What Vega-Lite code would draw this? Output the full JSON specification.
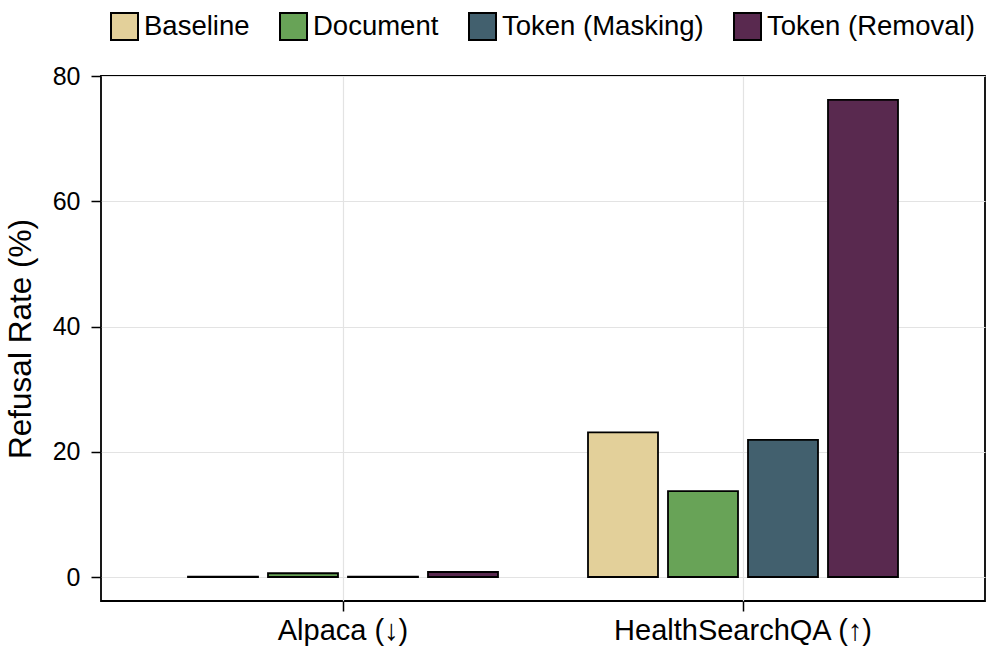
{
  "$schema": "https://vega.github.io/schema/vega-lite/v6.json",
  "autosize": {"type": "none"},
  "width": 884,
  "height": 525,
  "padding": {"left": 101, "top": 76, "right": 11, "bottom": 63},
  "background": "white",
  "config": {
    "font": "Liberation Sans",
    "view": {"stroke": "black", "strokeWidth": 1.8},
    "axis": {"labelFont": "Liberation Sans", "titleFont": "Liberation Sans"},
    "legend": {"labelFont": "Liberation Sans"}
  },
  "data": {
    "values": [
      {"dataset": "Alpaca (↓)", "method": "Baseline", "rate": 0.05},
      {"dataset": "Alpaca (↓)", "method": "Document", "rate": 0.6},
      {"dataset": "Alpaca (↓)", "method": "Token (Masking)", "rate": 0.05},
      {"dataset": "Alpaca (↓)", "method": "Token (Removal)", "rate": 0.8},
      {"dataset": "HealthSearchQA (↑)", "method": "Baseline", "rate": 23.1},
      {"dataset": "HealthSearchQA (↑)", "method": "Document", "rate": 13.7},
      {"dataset": "HealthSearchQA (↑)", "method": "Token (Masking)", "rate": 21.9},
      {"dataset": "HealthSearchQA (↑)", "method": "Token (Removal)", "rate": 76.2}
    ]
  },
  "mark": {"type": "bar", "stroke": "black", "strokeWidth": 1.8},
  "encoding": {
    "x": {
      "field": "dataset",
      "type": "nominal",
      "sort": null,
      "scale": {"paddingInner": 0, "paddingOuter": 0.105},
      "axis": {
        "title": null,
        "labelAngle": 0,
        "labelFontSize": 29,
        "labelLimit": 0,
        "labelColor": "black",
        "labelPadding": 5,
        "domain": false,
        "ticks": true,
        "tickColor": "black",
        "tickWidth": 1.5,
        "tickSize": 10,
        "grid": true,
        "gridColor": "#e3e3e3",
        "gridWidth": 1.2
      }
    },
    "xOffset": {
      "field": "method",
      "type": "nominal",
      "sort": ["Baseline", "Document", "Token (Masking)", "Token (Removal)"],
      "scale": {"paddingInner": 0.125, "paddingOuter": 0.5625}
    },
    "y": {
      "field": "rate",
      "type": "quantitative",
      "scale": {"domain": [-3.83, 80], "nice": false, "zero": false},
      "axis": {
        "title": "Refusal Rate (%)",
        "titleFontSize": 31.5,
        "titleFontWeight": "normal",
        "titleColor": "black",
        "titlePadding": 15,
        "values": [0, 20, 40, 60, 80],
        "labelFontSize": 25,
        "labelColor": "black",
        "labelPadding": 11,
        "domain": false,
        "tickColor": "black",
        "tickWidth": 1.5,
        "tickSize": 10,
        "grid": true,
        "gridColor": "#e3e3e3",
        "gridWidth": 1.2
      }
    },
    "color": {
      "field": "method",
      "type": "nominal",
      "sort": ["Baseline", "Document", "Token (Masking)", "Token (Removal)"],
      "scale": {
        "domain": ["Baseline", "Document", "Token (Masking)", "Token (Removal)"],
        "range": ["#E3D09A", "#68A357", "#42606E", "#59294F"]
      },
      "legend": {
        "title": null,
        "orient": "none",
        "direction": "horizontal",
        "legendX": 9,
        "legendY": -64,
        "symbolType": "square",
        "symbolSize": 729,
        "symbolStrokeColor": "black",
        "symbolStrokeWidth": 2,
        "symbolOpacity": 1,
        "labelFontSize": 27.5,
        "labelLimit": 0,
        "labelColor": "black",
        "labelOffset": 5,
        "columnPadding": 26
      }
    }
  }
}
